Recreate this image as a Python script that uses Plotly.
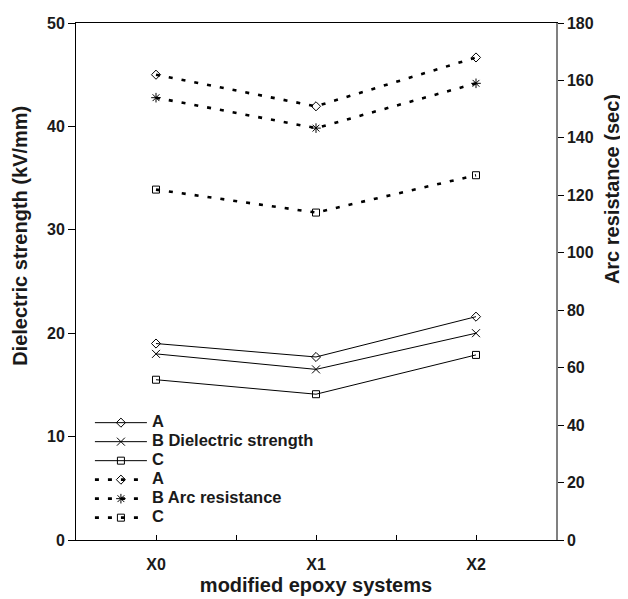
import plotly.graph_objects as go

categories = ["X0", "X1", "X2"]
# Dielectric strength (kV/mm), left axis
ds_A = [19.0, 17.7, 21.6]
ds_B = [18.0, 16.5, 20.0]
ds_C = [15.5, 14.1, 17.9]
# Arc resistance (sec), right axis
ar_A = [162, 151, 168]
ar_B = [154, 143.4, 159]
ar_C = [122, 114, 127]

left_ticks = [0, 10, 20, 30, 40, 50]
right_ticks = [0, 20, 40, 60, 80, 100, 120, 140, 160, 180]

xpos = list(range(len(categories)))
FONT = "Liberation Sans, Arial, sans-serif"
TXT = "#1a1a1a"

def lg(name):
    return '<span style="font-size:16.5px">' + name + '</span>'

fig = go.Figure()

solid = dict(color="black", width=1)
dotted = dict(color="black", width=2.6, dash="4px,9px")

def mk(sym, size):
    return dict(symbol=sym, size=size, color="black", line=dict(color="black", width=1))

fig.add_trace(go.Scatter(x=xpos, y=ds_A, name=lg("A"), mode="lines+markers",
                         line=solid, marker=mk("diamond-open", 7), yaxis="y"))
fig.add_trace(go.Scatter(x=xpos, y=ds_B, name=lg("B Dielectric strength"), mode="lines+markers",
                         line=solid, marker=mk("x-thin-open", 8), yaxis="y"))
fig.add_trace(go.Scatter(x=xpos, y=ds_C, name=lg("C"), mode="lines+markers",
                         line=solid, marker=mk("square-open", 7), yaxis="y"))
fig.add_trace(go.Scatter(x=xpos, y=ar_A, name=lg("A"), mode="lines+markers",
                         line=dotted, marker=mk("diamond-open", 7), yaxis="y2"))
fig.add_trace(go.Scatter(x=xpos, y=ar_B, name=lg("B Arc resistance"), mode="lines+markers",
                         line=dotted, marker=mk("asterisk-open", 8), yaxis="y2"))
fig.add_trace(go.Scatter(x=xpos, y=ar_C, name=lg("C"), mode="lines+markers",
                         line=dotted, marker=mk("square-open", 7), yaxis="y2"))

tickfont = dict(family=FONT, size=16, weight="bold", color=TXT)
titlefont = dict(family=FONT, size=20, weight="bold", color=TXT)

fig.update_layout(
    template="none",
    width=620, height=591,
    margin=dict(l=68, r=72, t=15, b=59),
    paper_bgcolor="white", plot_bgcolor="white",
    font=dict(family=FONT, size=14, color=TXT),
    showlegend=True,
    legend=dict(x=0.029, y=0.255, xanchor="left", yanchor="top",
                bgcolor="rgba(0,0,0,0)", borderwidth=0,
                font=dict(family=FONT, size=12, weight="bold", color=TXT),
                tracegroupgap=0, itemwidth=52),
    xaxis=dict(range=[-0.5, 2.5], tickvals=[0, 0.5, 1, 1.5, 2],
               ticktext=[categories[0], "", categories[1], "", categories[2]],
               ticks="inside", ticklen=5, tickcolor="black",
               showline=True, linecolor="black", linewidth=1, mirror=True,
               showgrid=False, zeroline=False, automargin=False,
               tickfont=tickfont, ticklabelstandoff=10,
               title=dict(text="modified epoxy systems", standoff=5, font=titlefont)),
    yaxis=dict(range=[0, 50], tickvals=left_ticks,
               ticks="outside", ticklen=7, tickcolor="black",
               showline=True, linecolor="black", linewidth=1,
               showgrid=False, zeroline=False, automargin=False,
               tickfont=tickfont),
    yaxis2=dict(range=[0, 180], tickvals=right_ticks, overlaying="y", side="right",
                ticks="outside", ticklen=6, tickcolor="black",
                showline=True, linecolor="#808080", linewidth=1.5,
                showgrid=False, zeroline=False, automargin=False,
                tickfont=tickfont),
    yaxis3=dict(range=[0, 180], tickvals=right_ticks, overlaying="y", side="right",
                anchor="x", ticks="inside", ticklen=6, tickcolor="black",
                showticklabels=False, showline=False, showgrid=False, zeroline=False,
                automargin=False),
    annotations=[
        dict(text="Dielectric strength (kV/mm)", textangle=-90, xref="paper", yref="paper",
             x=-0.117, y=0.588, xanchor="center", yanchor="middle", showarrow=False,
             font=titlefont),
        dict(text="Arc resistance (sec)", textangle=-90, xref="paper", yref="paper",
             x=1.117, y=0.679, xanchor="center", yanchor="middle", showarrow=False,
             font=titlefont),
    ],
)

fig.write_html("out.html")
